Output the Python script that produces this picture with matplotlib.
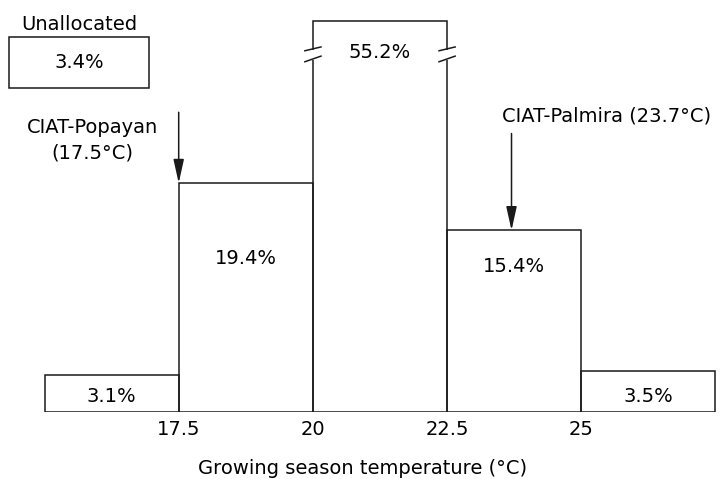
import matplotlib
matplotlib.use('Agg')
import matplotlib.pyplot as plt
from matplotlib.patches import Rectangle

# temperature classes (left edge, degC) and share of area in each (%)
bin_edges = [15.0, 17.5, 20.0, 22.5, 25.0]
bin_width = 2.5
shares = [3.1, 19.4, 55.2, 15.4, 3.5]
unallocated = 3.4
tick_temps = [17.5, 20, 22.5, 25]
stations = ['CIAT-Popayan\n(17.5°C)', 'CIAT-Palmira (23.7°C)']
station_temps = [17.5, 23.7]

plt.rcParams['font.family'] = 'DejaVu Sans'
plt.rcParams['font.size'] = 14
ink = '#1a1a1a'

fig = plt.figure(figsize=(7.25, 4.79), dpi=100)
# lower part of the broken axis and the small strip holding the top of the tall bar
ax = fig.add_axes([0, 67/479, 1, 352/479])
ax_top = fig.add_axes([0, 429/479, 1, 38/479])

px = 11.8  # pixels per percent
xlim = (14.171, 27.677)
for a in (ax, ax_top):
    a.bar(bin_edges, shares, width=bin_width, align='edge', fill=False,
          edgecolor=ink, linewidth=1.1)
    a.set_xlim(xlim)
    for s in a.spines.values():
        s.set_visible(False)
    a.set_yticks([])
ax.set_ylim(0, 352/px)
ax_top.set_ylim(55.2 - 29/px, 55.2 + 9/px)
ax_top.set_xticks([])

ax.set_xticks(tick_temps)
ax.set_xticklabels(['17.5', '20', '22.5', '25'])
ax.tick_params(axis='x', length=0, pad=6)
ax.set_xlabel('Growing season temperature (°C)', labelpad=14)

# break marks on the tall bar
for x in (bin_edges[2], bin_edges[3]):
    ax_top.plot([x - 0.15, x + 0.15], [-0.02, 0.08], color=ink, lw=1.1,
                transform=ax_top.get_xaxis_transform(), clip_on=False)
    ax.plot([x - 0.15, x + 0.15], [0.995, 1.011], color=ink, lw=1.1,
            transform=ax.get_xaxis_transform(), clip_on=False)

# value labels inside the bars
label_y = [shares[0] / 2 - 0.2, 13.0, None, 12.3, shares[4] / 2 - 0.4]
for left, v, y in zip(bin_edges, shares, label_y):
    if y is None:
        ax_top.text(left + bin_width / 2, -0.06, f'{v}%', ha='center', va='center',
                    transform=ax_top.get_xaxis_transform())
    else:
        ax.text(left + bin_width / 2, y, f'{v}%', ha='center', va='center')

# station arrows
arrow_kw = dict(arrowstyle='-|>,head_length=0.9,head_width=0.2', color=ink,
                lw=1.1, mutation_scale=16, shrinkA=0, shrinkB=0)
tops = [25.4, 23.6]
for t, top in zip(station_temps, tops):
    h = shares[bin_edges.index(max(e for e in bin_edges if e <= t))]
    ax.annotate('', xy=(t, h), xytext=(t, top), arrowprops=arrow_kw)
ax.text(15.9, 23.0, stations[0], ha='center', va='center', linespacing=1.45)
ax.text(23.52, 25.1, stations[1], ha='left', va='center')

# unallocated share, shown apart from the temperature axis
fig.add_artist(Rectangle((9/725, (479-88)/479), 140/725, 51/479, fill=False,
                         edgecolor=ink, linewidth=1.1, transform=fig.transFigure))
fig.text(79/725, 1 - 63/479, f'{unallocated}%', ha='center', va='center')
fig.text(79/725, 1 - 24/479, 'Unallocated', ha='center', va='center')

fig.savefig('out.png', dpi=100)
